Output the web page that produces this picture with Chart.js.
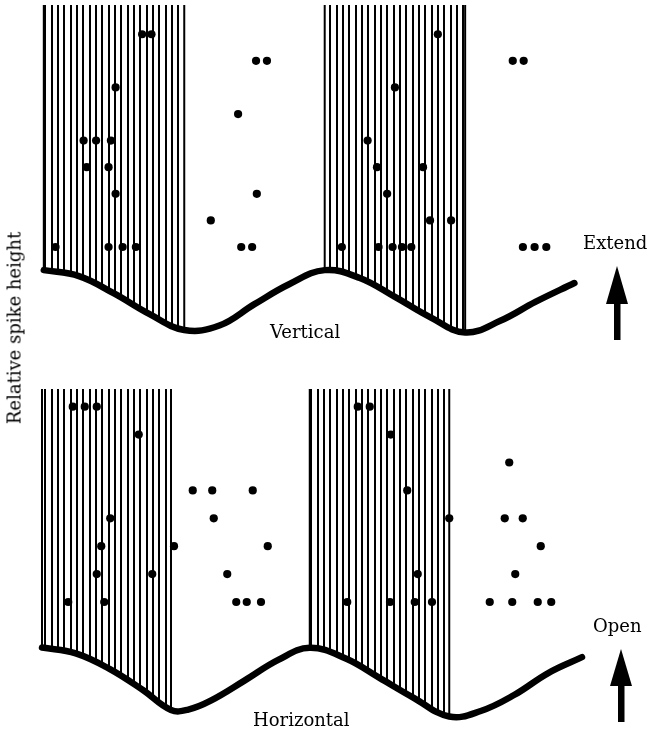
<!DOCTYPE html>
<html lang="en">
<head>
<meta charset="UTF-8">
<title>Relative spike height</title>
<script src="https://cdn.jsdelivr.net/npm/chart.js/dist/chart.umd.min.js"></script>
<style>
    body { margin: 0; background: #fff; }
    #wrap { position: relative; width: 650px; height: 739px; font-family: "DejaVu Serif", serif; font-size: 18px; color: #000; }
    canvas { position: absolute; left: 0; }
    .lbl { position: absolute; line-height: 18px; white-space: nowrap; }
    #ylab { position: absolute; left: 14px; top: 328px; transform: translate(-50%, -50%) rotate(-90deg); white-space: nowrap; }
    svg { position: absolute; left: 0; top: 0; }
</style>
</head>
<body>
<div id="wrap">
    <canvas id="vertChart" width="650" height="370" style="top:0"></canvas>
    <canvas id="horizChart" width="650" height="369" style="top:370px"></canvas>
    <div id="ylab">Relative spike height</div>
    <div class="lbl" style="left:270px;top:323px">Vertical</div>
    <div class="lbl" style="left:253px;top:711px">Horizontal</div>
    <div class="lbl" style="left:583px;top:234px">Extend</div>
    <div class="lbl" style="left:593px;top:617px">Open</div>
    <svg width="650" height="739">
        <polygon points="617,266 606,304 628,304" fill="#000"/>
        <rect x="614" y="300" width="6.5" height="40" fill="#000"/>
        <polygon points="621,649 610,686 632,686" fill="#000"/>
        <rect x="618" y="682" width="6.5" height="40" fill="#000"/>
    </svg>
</div>
<script>
// stimulus trace: phase (deg) and position (+1 peak, -1 trough)
const vertCurveX = [0, 45, 90, 135, 180, 225, 270, 315, 360, 405, 450, 495, 540, 585, 630, 680];
const vertCurveY = [0.98, 0.79, 0.24, -0.41, -0.92, -0.78, -0.1, 0.54, 0.98, 0.73, 0.13, -0.51, -1.0, -0.63, -0.03, 0.57];
const vertHatch = [[0, 180], [360, 540]];

// spikes: phase (deg) and relative height level
const vertDotX = [126, 138, 92, 51, 67, 86, 55, 83, 92, 15, 83, 101, 118,
                  272, 286, 249, 273, 214, 253, 267,
                  505, 450, 415, 427, 486, 440, 495, 522, 382, 429, 447, 459, 471,
                  601, 615, 614, 629, 644];
const vertDotY = [9, 9, 7, 5, 5, 5, 4, 4, 3, 1, 1, 1, 1,
                  8, 8, 6, 3, 2, 1, 1,
                  9, 7, 5, 4, 4, 3, 2, 2, 1, 1, 1, 1, 1,
                  8, 8, 1, 1, 1];

const horizCurveX = [0, 45, 90, 135, 172, 195, 225, 270, 315, 357, 405, 450, 495, 543, 585, 630, 675, 720];
const horizCurveY = [1.0, 0.83, 0.38, -0.24, -0.81, -0.8, -0.54, 0.04, 0.64, 0.99, 0.68, 0.12, -0.45, -1.0, -0.84, -0.37, 0.26, 0.72];
const horizHatch = [[0, 172], [357, 543]];

const horizDotX = [41, 57, 73, 129, 91, 79, 176, 73, 147, 35, 83,
                   201, 227, 281, 229, 301, 247, 259, 273, 292,
                   421, 437, 465, 487, 543, 501, 407, 464, 497, 520,
                   623, 617, 641, 665, 631, 597, 627, 661, 679];
const horizDotY = [8, 8, 8, 7, 4, 3, 3, 2, 2, 1, 1,
                   5, 5, 5, 4, 3, 2, 1, 1, 1,
                   8, 8, 7, 5, 4, 2, 1, 1, 1, 1,
                   6, 4, 4, 3, 2, 1, 1, 1, 1];

// vertical-line hatching
function makeHatch() {
    const tile = document.createElement("canvas");
    tile.width = 19;
    tile.height = 8;
    const c = tile.getContext("2d");
    c.fillStyle = "#000";
    [0, 6, 13].forEach(x => c.fillRect(x, 0, 2, 8));
    return c.createPattern(tile, "repeat");
}

function buildPanel(id, curveX, curveY, hatch, dotX, dotY, area) {
    const curve = curveX.map((x, i) => ({ x: x, y: curveY[i] }));
    const datasets = [];

    datasets.push({
        type: "scatter",
        data: dotX.map((x, i) => ({ x: x, y: dotY[i] })),
        yAxisID: "y",
        pointRadius: 4.1,
        pointBackgroundColor: "#000",
        pointBorderWidth: 0
    });

    datasets.push({
        type: "line",
        data: curve,
        yAxisID: "y2",
        borderColor: "#000",
        borderWidth: 6.5,
        borderCapStyle: "round",
        tension: 0.4,
        pointRadius: 0,
        fill: false,
        clip: false
    });

    hatch.forEach(h => {
        // edge lines of the shaded half-cycle
        h.forEach(edge => {
            const v = curveY[curveX.indexOf(edge)];
            datasets.push({
                type: "line",
                data: [{ x: edge, y: v }, { x: edge, y: area.y2Max }],
                yAxisID: "y2",
                borderColor: "#000",
                borderWidth: 2,
                pointRadius: 0,
                fill: false
            });
        });
    });

    hatch.forEach(h => {
        datasets.push({
            type: "line",
            data: curve.filter(p => p.x >= h[0] && p.x <= h[1]),
            yAxisID: "y2",
            borderColor: "rgba(0,0,0,0)",
            borderWidth: 1,
            tension: 0.4,
            pointRadius: 0,
            fill: "end",
            backgroundColor: makeHatch()
        });
    });

    new Chart(document.getElementById(id), {
        type: "line",
        data: { datasets: datasets },
        options: {
            responsive: false,
            animation: false,
            devicePixelRatio: 1,
            events: [],
            layout: { padding: area.padding },
            plugins: { legend: { display: false }, tooltip: { enabled: false } },
            scales: {
                x: { type: "linear", display: false, min: area.xMin, max: area.xMax },
                y: { display: false, min: area.yMin, max: area.yMax },
                y2: { display: false, min: area.y2Min, max: area.y2Max }
            }
        }
    });
}

buildPanel("vertChart", vertCurveX, vertCurveY, vertHatch, vertDotX, vertDotY, {
    xMin: -10, xMax: 700, yMin: -3.25, yMax: 10.1, y2Min: -1.873, y2Max: 9.397,
    padding: { left: 36, right: 60, top: 5, bottom: 10 }
});

buildPanel("horizChart", horizCurveX, horizCurveY, horizHatch, horizDotX, horizDotY, {
    xMin: -10, xMax: 740, yMin: -3.552, yMax: 8.634, y2Min: -1.362, y2Max: 8.493,
    padding: { left: 34.5, right: 53, top: 19, bottom: 10 }
});
</script>
</body>
</html>
